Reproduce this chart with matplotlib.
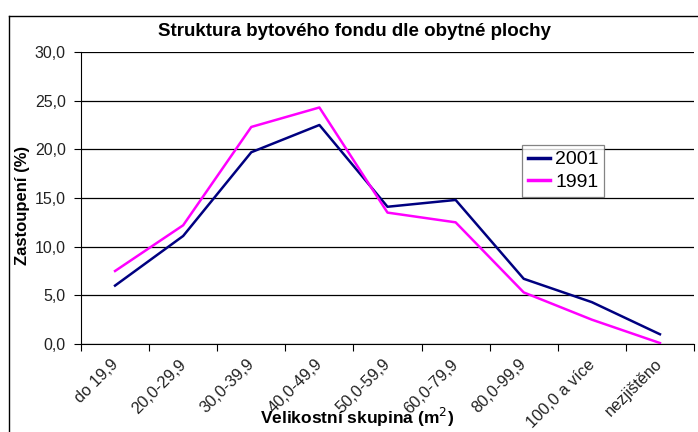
import matplotlib
matplotlib.use("Agg")
import matplotlib.pyplot as plt
import matplotlib.transforms as mtransforms
from matplotlib.lines import Line2D

plt.rcParams['font.family'] = ['Liberation Sans', 'DejaVu Sans']

categories = ['do 19,9', '20,0-29,9', '30,0-39,9', '40,0-49,9', '50,0-59,9',
              '60,0-79,9', '80,0-99,9', '100,0 a více', 'nezjištěno']
y2001 = [6.0, 11.1, 19.7, 22.5, 14.1, 14.8, 6.7, 4.3, 1.0]
y1991 = [7.5, 12.2, 22.3, 24.3, 13.5, 12.5, 5.3, 2.5, 0.1]

W, H = 698, 432
fig = plt.figure(figsize=(W / 100, H / 100), dpi=100)

# outer chart frame (cropped on right/bottom)
fig.add_artist(Line2D([9 / W, 9 / W], [0, 1 - 16 / H], color='black', lw=1))
fig.add_artist(Line2D([9 / W, 1], [1 - 16 / H, 1 - 16 / H], color='black', lw=1))

ax = fig.add_axes([81 / W, 1 - 344 / H, (694 - 81) / W, (344 - 52) / H])
x = [i + 0.5 for i in range(len(categories))]
ax.plot(x, y2001, color='#000080', lw=1.8, label='2001')
ax.plot(x, y1991, color='#FF00FF', lw=1.8, label='1991')

ax.set_xlim(0, len(categories))
ax.set_ylim(0, 30)
ax.set_yticks(range(0, 31, 5))
ax.set_yticklabels([f'{v:.1f}'.replace('.', ',') for v in range(0, 31, 5)],
                   fontsize=11.5, color='#222222')
ax.yaxis.grid(True, color='black', lw=0.9)
ax.set_axisbelow(True)
ax.set_xticks(range(len(categories) + 1))
ax.set_xticklabels([])
ax.set_xticks(x, minor=True)
ax.set_xticklabels(categories, minor=True, rotation=45, ha='right', va='top',
                   rotation_mode='anchor', fontsize=11.8, color='#222222')
ax.tick_params(axis='x', which='minor', length=0, pad=9)
ax.tick_params(axis='x', which='major', length=5, direction='out')
ax.tick_params(axis='y', length=5, direction='out', pad=6)
shift = mtransforms.ScaledTranslation(-5 / 100, 0, fig.dpi_scale_trans)
for lab in ax.get_xticklabels(minor=True):
    lab.set_transform(lab.get_transform() + shift)
for s in ['top', 'right']:
    ax.spines[s].set_visible(False)

fig.text(354 / W, 1 - 31 / H, 'Struktura bytového fondu dle obytné plochy',
         ha='center', va='center', fontsize=13.5, fontweight='bold')
fig.text(23 / W, 1 - 205 / H, 'Zastoupení (%)', ha='center', va='center',
         rotation=90, fontsize=12, fontweight='bold')
fig.text(357 / W, 1 - 417 / H, 'Velikostní skupina (m$^2$)', ha='center',
         va='center', fontsize=12.5, fontweight='bold')

leg = ax.legend(loc='upper left', bbox_to_anchor=((522 - 81) / (694 - 81), (344 - 145) / (344 - 52)),
                frameon=True, fancybox=False, edgecolor='#666666', fontsize=14,
                handlelength=1.15, handletextpad=0.25, borderpad=0.3, labelspacing=0.25,
                borderaxespad=0)
leg.get_frame().set_linewidth(0.9)
for ln in leg.get_lines():
    ln.set_linewidth(2.5)

fig.savefig('out.png', dpi=100)
